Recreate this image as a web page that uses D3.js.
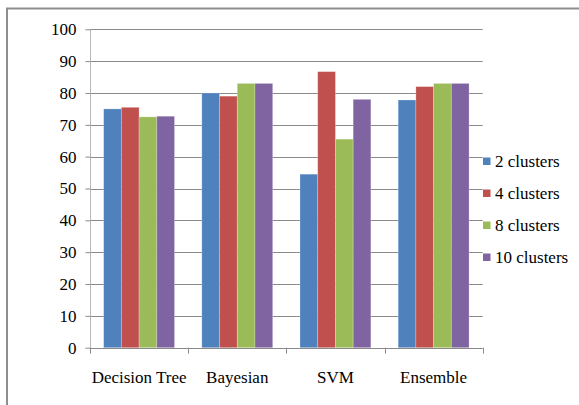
<!DOCTYPE html>
<html>
<head>
<meta charset="utf-8">
<script src="https://cdn.jsdelivr.net/npm/d3@7"></script>
<style>
  html, body { margin: 0; padding: 0; background: #fff; }
  svg { display: block; }
  svg text { font-family: "Liberation Serif", "Times New Roman", serif; fill: #000; }
</style>
</head>
<body>
<svg id="chart" width="579" height="405"></svg>
<script>
// Classifier accuracy by number of clusters
const categories = ["Decision Tree", "Bayesian", "SVM", "Ensemble"];
const seriesNames = ["2 clusters", "4 clusters", "8 clusters", "10 clusters"];
const clusters2  = [75.0, 80.0, 54.5, 77.8];
const clusters4  = [75.5, 79.0, 86.7, 82.0];
const clusters8  = [72.5, 83.0, 65.5, 83.0];
const clusters10 = [72.7, 83.0, 78.0, 83.0];
const yTicks = [0, 10, 20, 30, 40, 50, 60, 70, 80, 90, 100];
const colors = ["#4F81BD", "#C0504D", "#9BBB59", "#8064A2"];

const seriesValues = [clusters2, clusters4, clusters8, clusters10];
const FONT = '"Liberation Serif", "Times New Roman", serif';

const svg = d3.select("#chart");

// outer frame (left and top edges)
svg.append("path")
  .attr("d", "M7,405 L7,8.5 L579,8.5")
  .attr("fill", "none")
  .attr("stroke", "#8e8e8e")
  .attr("stroke-width", 2);

const plot = { left: 90, right: 482.7, top: 29.3, bottom: 347.7 };

const x0 = d3.scaleBand()
  .domain(categories)
  .range([plot.left, plot.right])
  .paddingInner(0)
  .paddingOuter(0);

const x1 = d3.scaleBand()
  .domain(seriesNames)
  .range([0, x0.bandwidth()])
  .paddingInner(0)
  .paddingOuter(0.77);

const y = d3.scaleLinear()
  .domain([0, 100])
  .range([plot.bottom, plot.top]);

// horizontal gridlines
svg.append("g")
  .selectAll("line")
  .data(yTicks.filter(t => t > 0))
  .join("line")
  .attr("x1", plot.left)
  .attr("x2", plot.right)
  .attr("y1", d => Math.round(y(d)) + 0.5)
  .attr("y2", d => Math.round(y(d)) + 0.5)
  .attr("stroke", "#8a8a8a")
  .attr("stroke-width", 1);

// bars
const groups = svg.append("g")
  .selectAll("g")
  .data(categories)
  .join("g")
  .attr("transform", d => `translate(${x0(d)},0)`);

groups.selectAll("rect")
  .data((c, ci) => seriesNames.map((s, si) => ({ s, si, v: seriesValues[si][ci] })))
  .join("rect")
  .attr("x", d => x1(d.s))
  .attr("width", x1.bandwidth())
  .attr("y", d => y(d.v))
  .attr("height", d => y(0) - y(d.v))
  .attr("fill", d => colors[d.si])
  .attr("stroke", "rgba(255,255,255,0.3)")
  .attr("stroke-width", 0.8);

// y axis
const yAxis = d3.axisLeft(y)
  .tickValues(yTicks)
  .tickSize(5)
  .tickPadding(9)
  .tickFormat(d3.format("d"));

const gy = svg.append("g")
  .attr("transform", `translate(${plot.left + 0.5},0)`)
  .call(yAxis)
  .attr("font-family", FONT)
  .attr("font-size", 17);
gy.select(".domain").attr("stroke", "#b8b8b8").attr("d", `M0,${plot.top}V${plot.bottom}`);
gy.selectAll(".tick line").attr("stroke", "#8a8a8a");
gy.selectAll(".tick text").attr("fill", "#000");

// x axis baseline with category boundary ticks
const gx = svg.append("g");
gx.append("line")
  .attr("x1", plot.left).attr("x2", plot.right)
  .attr("y1", Math.round(plot.bottom) + 0.5).attr("y2", Math.round(plot.bottom) + 0.5)
  .attr("stroke", "#8a8a8a");
const boundaries = categories.map(c => x0(c)).concat([x0(categories[categories.length - 1]) + x0.bandwidth()]);
gx.selectAll("line.bound")
  .data(boundaries)
  .join("line")
  .attr("class", "bound")
  .attr("x1", d => Math.round(d) + 0.5).attr("x2", d => Math.round(d) + 0.5)
  .attr("y1", plot.bottom).attr("y2", plot.bottom + 6)
  .attr("stroke", "#8a8a8a");

gx.selectAll("text")
  .data(categories)
  .join("text")
  .attr("x", d => x0(d) + x0.bandwidth() / 2)
  .attr("y", 383)
  .attr("text-anchor", "middle")
  .attr("font-family", FONT)
  .attr("font-size", 17)
  .text(d => d);

// legend
const legend = svg.append("g").attr("transform", "translate(483,161)");
const items = legend.selectAll("g")
  .data(seriesNames)
  .join("g")
  .attr("transform", (d, i) => `translate(0,${i * 32})`);
items.append("rect")
  .attr("x", 0).attr("y", -3.5)
  .attr("width", 7.5).attr("height", 7.5)
  .attr("fill", (d, i) => colors[i]);
items.append("text")
  .attr("x", 12).attr("y", 6)
  .attr("font-family", FONT)
  .attr("font-size", 17)
  .text(d => d);
</script>
</body>
</html>
